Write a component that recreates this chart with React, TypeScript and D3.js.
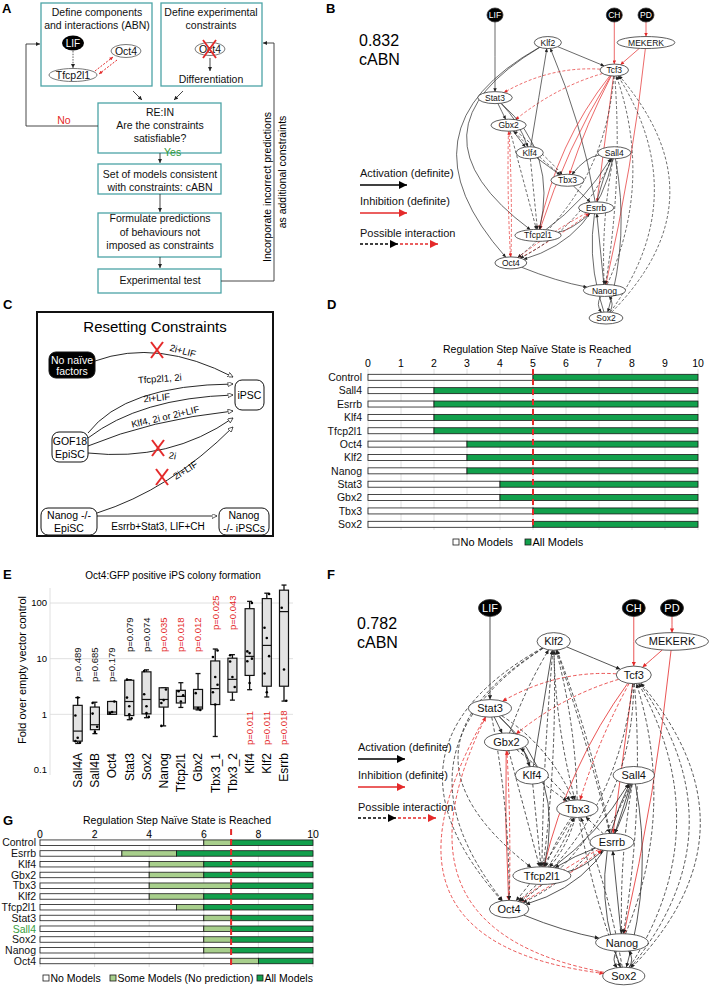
import React from 'react';
import * as d3 from 'd3';

const FONT = "'Liberation Sans', Arial, Helvetica, sans-serif";
const RED = '#e42a2a';
const TEAL = '#4ca4a6';
const DARK_GREEN = '#12a04c';
const LIGHT_GREEN = '#a8cf8c';
const INK = '#1a1a1a';
const GRID = '#d8d8d8';

// ---------- Panels B / F : network ----------
const netNodes = ['LIF', 'CH', 'PD', 'Klf2', 'MEKERK', 'Tcf3', 'Stat3', 'Gbx2', 'Klf4', 'Sall4', 'Tbx3', 'Esrrb', 'Tfcp2l1', 'Oct4', 'Nanog', 'Sox2'];
const netCol = [0, 7.9, 10, 3.5, 10, 7.9, 0, 0.9, 2.3, 7.9, 4.8, 6.7, 2.85, 1.05, 7.25, 7.35];
const netRank = [0, 0, 0, 1, 1, 2, 3, 4, 5, 5, 6, 7, 8, 9, 10, 11];
const netInputs = ['LIF', 'CH', 'PD'];

// [source, target, type (a=activation, i=inhibition, p=possible, q=possible red), bend]
const bEdges: [string, string, string, number][] = [
  ['LIF', 'Stat3', 'a', 0], ['CH', 'Tcf3', 'i', 0], ['PD', 'MEKERK', 'i', 0], ['MEKERK', 'Tcf3', 'i', 0],
  ['MEKERK', 'Nanog', 'i', -0.03], ['Klf2', 'Tcf3', 'a', 0], ['Esrrb', 'Klf2', 'a', 0.06],
  ['Tcf3', 'Stat3', 'q', 0.15], ['Tcf3', 'Gbx2', 'q', 0.1], ['Tcf3', 'Tfcp2l1', 'i', 0.12], ['Tcf3', 'Tfcp2l1', 'i', 0.06],
  ['Tcf3', 'Tbx3', 'i', 0.04], ['Tcf3', 'Esrrb', 'i', 0], ['Klf2', 'Oct4', 'a', 0.62], ['Klf2', 'Tfcp2l1', 'a', 0.75],
  ['Klf4', 'Klf2', 'a', 0], ['Stat3', 'Gbx2', 'a', 0], ['Stat3', 'Klf4', 'a', -0.12], ['Stat3', 'Tfcp2l1', 'a', -0.3],
  ['Gbx2', 'Klf4', 'a', 0], ['Gbx2', 'Tbx3', 'p', -0.04], ['Tbx3', 'Gbx2', 'p', -0.04], ['Gbx2', 'Tfcp2l1', 'p', 0],
  ['Gbx2', 'Oct4', 'q', 0.02], ['Oct4', 'Gbx2', 'q', 0.02], ['Klf4', 'Tbx3', 'a', 0], ['Klf4', 'Tfcp2l1', 'p', 0],
  ['Sall4', 'Tbx3', 'a', 0.2], ['Tfcp2l1', 'Sall4', 'a', 0.1], ['Sall4', 'Oct4', 'a', -0.3], ['Sall4', 'Sox2', 'a', -0.12],
  ['Sox2', 'Sall4', 'a', -0.2], ['Tbx3', 'Esrrb', 'a', 0], ['Tfcp2l1', 'Esrrb', 'a', 0.15], ['Esrrb', 'Oct4', 'q', 0.04],
  ['Oct4', 'Esrrb', 'q', 0.04], ['Oct4', 'Nanog', 'a', 0.05], ['Nanog', 'Esrrb', 'a', 0], ['Nanog', 'Sox2', 'a', 0.35],
  ['Sox2', 'Nanog', 'a', 0.35], ['Tcf3', 'Oct4', 'p', -0.22], ['Sall4', 'Oct4', 'p', -0.18], ['Sall4', 'Nanog', 'p', 0.06],
  ['Tcf3', 'Nanog', 'p', -0.06], ['Sox2', 'Tcf3', 'p', 0.34], ['Sox2', 'Tcf3', 'p', 0.46], ['Nanog', 'Tcf3', 'p', 0.2],
];

const fEdges: [string, string, string, number][] = [
  ['LIF', 'Stat3', 'a', 0], ['CH', 'Tcf3', 'i', 0], ['PD', 'MEKERK', 'i', 0], ['MEKERK', 'Tcf3', 'i', 0],
  ['MEKERK', 'Nanog', 'i', -0.03], ['Klf2', 'Tcf3', 'a', 0], ['Klf2', 'Oct4', 'p', 0.62], ['Klf2', 'Oct4', 'p', 0.55],
  ['Klf2', 'Tfcp2l1', 'p', 0.72], ['Tcf3', 'Stat3', 'q', 0.15], ['Tcf3', 'Gbx2', 'q', 0.1], ['Tcf3', 'Tfcp2l1', 'i', 0.1],
  ['Tcf3', 'Tbx3', 'q', 0.05], ['Tcf3', 'Esrrb', 'i', 0], ['Stat3', 'Gbx2', 'a', 0], ['Stat3', 'Klf4', 'a', -0.15],
  ['Stat3', 'Tfcp2l1', 'a', -0.3], ['Stat3', 'Tbx3', 'p', -0.15], ['Stat3', 'Sox2', 'q', 0.75], ['Sox2', 'Stat3', 'q', -0.66],
  ['Gbx2', 'Oct4', 'i', 0.02], ['Oct4', 'Gbx2', 'q', 0.02], ['Gbx2', 'Klf2', 'p', -0.05], ['Gbx2', 'Tfcp2l1', 'p', 0],
  ['Gbx2', 'Tbx3', 'p', -0.05], ['Klf4', 'Gbx2', 'a', 0.25], ['Klf4', 'Klf2', 'a', 0], ['Klf4', 'Tbx3', 'p', 0],
  ['Klf4', 'Tfcp2l1', 'p', 0], ['Tfcp2l1', 'Klf2', 'p', 0.04], ['Klf2', 'Tfcp2l1', 'p', 0.02], ['Tbx3', 'Klf2', 'p', 0.06],
  ['Klf2', 'Tbx3', 'p', 0.06], ['Esrrb', 'Klf2', 'p', 0.04], ['Klf2', 'Esrrb', 'p', -0.02], ['Tfcp2l1', 'Sall4', 'a', 0.1],
  ['Sall4', 'Esrrb', 'a', 0], ['Sall4', 'Oct4', 'a', -0.3], ['Sall4', 'Oct4', 'p', -0.2], ['Sall4', 'Nanog', 'p', 0.05],
  ['Sall4', 'Sox2', 'a', -0.12], ['Sox2', 'Sall4', 'a', -0.22], ['Tbx3', 'Tfcp2l1', 'p', 0.06], ['Tfcp2l1', 'Tbx3', 'p', 0.06],
  ['Tbx3', 'Tfcp2l1', 'p', -0.12], ['Tbx3', 'Sox2', 'p', 0.05], ['Sox2', 'Tbx3', 'p', 0.05], ['Tbx3', 'Oct4', 'p', -0.05],
  ['Esrrb', 'Tbx3', 'p', 0], ['Tfcp2l1', 'Esrrb', 'a', 0.15], ['Esrrb', 'Tfcp2l1', 'a', 0.05], ['Esrrb', 'Oct4', 'q', 0.04],
  ['Oct4', 'Esrrb', 'q', 0.04], ['Oct4', 'Nanog', 'a', 0.05], ['Nanog', 'Esrrb', 'a', 0], ['Nanog', 'Sox2', 'a', 0.35],
  ['Sox2', 'Nanog', 'a', 0.35], ['Tcf3', 'Oct4', 'p', -0.2], ['Tcf3', 'Oct4', 'p', -0.26], ['Tcf3', 'Nanog', 'p', -0.06],
  ['Sox2', 'Tcf3', 'p', 0.3], ['Sox2', 'Tcf3', 'p', 0.45], ['Tcf3', 'Sox2', 'p', -0.38], ['Nanog', 'Tcf3', 'p', 0.18],
  ['Stat3', 'Oct4', 'p', -0.05],
];
const bScore = ['0.832', 'cABN'];
const fScore = ['0.782', 'cABN'];
const legendLabels = ['Activation (definite)', 'Inhibition (definite)', 'Possible interaction'];

// ---------- Panel D ----------
const dCategories = ['Control', 'Sall4', 'Esrrb', 'Klf4', 'Tfcp2l1', 'Oct4', 'Klf2', 'Nanog', 'Stat3', 'Gbx2', 'Tbx3', 'Sox2'];
const dNoModels = [5, 2, 2, 2, 2, 3, 3, 3, 4, 4, 5, 5];
const dTicks = [0, 1, 2, 3, 4, 5, 6, 7, 8, 9, 10];
const dThreshold = 5;

// ---------- Panel G ----------
const gCategories = ['Control', 'Esrrb', 'Klf4', 'Gbx2', 'Tbx3', 'Klf2', 'Tfcp2l1', 'Stat3', 'Sall4', 'Sox2', 'Nanog', 'Oct4'];
const gNoModels = [6, 3, 4, 4, 4, 4, 5, 6, 6, 6, 6, 7];
const gSomeModels = [7, 5, 6, 6, 7, 6, 6, 7, 7, 7, 7, 8];
const gTicks = [0, 2, 4, 6, 8, 10];
const gThreshold = 7;
const gHighlight = 'Sall4';
const stepTitle = 'Regulation Step Naïve State is Reached';

// ---------- Panel E ----------
const eCategories = ['Sall4A', 'Sall4B', 'Oct4', 'Stat3', 'Sox2', 'Nanog', 'Tfcp2l1', 'Gbx2', 'Tbx3_1', 'Tbx3_2', 'Klf4', 'Klf2', 'Esrrb'];
const eWhiskerLow = [0.3, 0.45, 1.0, 0.8, 0.87, 0.62, 1.33, 1.2, 0.4, 1.8, 2.77, 2.05, 1.73];
const eQ1 = [0.33, 0.53, 1.0, 0.95, 1.02, 1.35, 1.6, 1.25, 1.5, 2.5, 5.0, 3.2, 3.2];
const eMedian = [0.5, 0.65, 1.1, 1.7, 1.85, 1.85, 2.1, 1.35, 2.9, 4.25, 11, 17.3, 70];
const eQ3 = [1.45, 1.35, 1.7, 4.1, 5.8, 3.0, 2.7, 2.8, 9.1, 10.2, 79, 120, 170];
const eWhiskerHigh = [2.0, 1.65, 1.7, 4.2, 6.3, 3.0, 3.7, 5.4, 14.9, 11.8, 107, 150, 210];
const ePoints = [
  [0.95, 0.38, 0.31, 0.33, 2.0], [1.03, 0.48, 0.6, 1.6], [1.05, 1.1, 1.7], [2.0, 1.4, 0.85, 4.2, 1.0],
  [2.3, 1.4, 0.9, 6.0, 1.05], [1.6, 1.8, 2.8, 0.62], [2.6, 1.7, 2.2], [2.4, 1.3, 1.2],
  [10.7, 4.67, 3.4, 2.5, 1.5, 14], [8.9, 4.67, 3.1, 11.5], [13.5, 12.6, 10, 9.0, 3.65, 100],
  [36, 23.5, 11.1, 5.4, 2.5, 145], [82, 6.4, 1.75],
];
const ePValues = ['0.489', '0.685', '0.179', '0.079', '0.074', '0.035', '0.018', '0.012', '0.025', '0.043', '0.011', '0.011', '0.018'];
const ePLevel = [0, 0, 0, 1, 1, 1, 1, 1, 2, 2, -1, -1, -1];
const eYTicks = [0.1, 1, 10, 100];
const eTitle = 'Oct4:GFP positive iPS colony formation';
const eYLabel = 'Fold over empty vector control';

let _ctx: any = null;
function textWidth(s: string, size: number) {
  if (!_ctx) {
    const c = document.createElement('canvas');
    _ctx = c.getContext('2d');
  }
  if (!_ctx) return s.length * size * 0.55;
  _ctx.font = `${size}px ${FONT}`;
  return _ctx.measureText(s).width;
}

function Marker({ id, color, w, h, open }: any) {
  return (
    <marker id={id} viewBox="0 0 10 10" refX={10} refY={5} markerWidth={w} markerHeight={h} markerUnits="userSpaceOnUse" orient="auto">
      <path d="M0,0L10,5L0,10Z" fill={open ? '#fff' : color} stroke={open ? color : 'none'} strokeWidth={open ? 1.3 : 0} />
    </marker>
  );
}

function onEllipse(n: any, tx: number, ty: number) {
  const dx = tx - n.x, dy = ty - n.y;
  const k = 1 / Math.sqrt((dx / n.rx) ** 2 + (dy / n.ry) ** 2 || 1);
  return [n.x + dx * k, n.y + dy * k];
}

function Network({ xr, yr, fontSize, nodeRy, inRx, inRy, edges, prefix, sw, dash }: any) {
  const xs = d3.scaleLinear().domain([0, 10]).range(xr);
  const ys = d3.scaleLinear().domain([0, 11]).range(yr);
  const nodes = netNodes.map((id, i) => {
    const input = netInputs.includes(id);
    const tw = textWidth(id, fontSize);
    return { id, x: xs(netCol[i]), y: ys(netRank[i]), rx: input ? inRx : tw * 0.72 + 3, ry: input ? inRy : nodeRy, input };
  });
  const map = new Map(nodes.map((n) => [n.id, n]));
  return (
    <g>
      {edges.map(([s, t, type, bend]: any, k: number) => {
        const a: any = map.get(s), b: any = map.get(t);
        const dx = b.x - a.x, dy = b.y - a.y;
        const cx = (a.x + b.x) / 2 - dy * bend, cy = (a.y + b.y) / 2 + dx * bend;
        const [x0, y0] = onEllipse(a, cx, cy);
        const [x1, y1] = onEllipse(b, cx, cy);
        const p = d3.path();
        p.moveTo(x0, y0);
        p.quadraticCurveTo(cx, cy, x1, y1);
        const red = type === 'i' || type === 'q';
        const dashed = type === 'p' || type === 'q';
        return (
          <path key={k} d={p.toString()} fill="none" stroke={red ? RED : '#2a2a2a'} strokeWidth={sw}
            strokeDasharray={dashed ? dash : undefined} markerEnd={`url(#${prefix}-${red ? 'r' : 'k'})`} />
        );
      })}
      {nodes.map((n) => (
        <g key={n.id}>
          <ellipse cx={n.x} cy={n.y} rx={n.rx} ry={n.ry} fill={n.input ? '#000' : '#fff'} stroke="#333" strokeWidth={0.8} />
          <text x={n.x} y={n.y + fontSize * 0.36} textAnchor="middle" fontSize={fontSize} fill={n.input ? '#fff' : '#111'}>{n.id}</text>
        </g>
      ))}
    </g>
  );
}

function NetLegend({ x, y }: any) {
  return (
    <g fontSize={11} fill="#111">
      <text x={x} y={y}>{legendLabels[0]}</text>
      <line x1={x} x2={x + 47} y1={y + 8} y2={y + 8} stroke="#000" strokeWidth={1.3} markerEnd="url(#leg-k)" />
      <text x={x} y={y + 28}>{legendLabels[1]}</text>
      <line x1={x} x2={x + 47} y1={y + 36} y2={y + 36} stroke={RED} strokeWidth={1.3} markerEnd="url(#leg-r)" />
      <text x={x} y={y + 60}>{legendLabels[2]}</text>
      <line x1={x} x2={x + 38} y1={y + 67} y2={y + 67} stroke="#000" strokeWidth={1.3} strokeDasharray="3,2" markerEnd="url(#leg-k)" />
      <line x1={x + 40} x2={x + 78} y1={y + 67} y2={y + 67} stroke={RED} strokeWidth={1.3} strokeDasharray="3,2" markerEnd="url(#leg-r)" />
    </g>
  );
}

function PanelA() {
  const box = (x: number, y: number, w: number, h: number) => (
    <rect x={x} y={y} width={w} height={h} fill="#fff" stroke={TEAL} strokeWidth={1.3} />
  );
  const t = (x: number, y: number, s: string, color = '#111') => (
    <text x={x} y={y} textAnchor="middle" fill={color}>{s}</text>
  );
  return (
    <g fontSize={10.5}>
      <text x={2} y={13} fontWeight="bold" fontSize={13}>A</text>
      {box(41, 3, 111, 83)}
      {t(97, 16, 'Define components')}
      {t(97, 29, 'and interactions (ABN)')}
      <ellipse cx={73} cy={43} rx={11} ry={7.5} fill="#000" />
      <text x={73} y={47} textAnchor="middle" fill="#fff" fontSize={10}>LIF</text>
      <ellipse cx={126} cy={51} rx={15} ry={6.5} fill="#fff" stroke="#555" strokeWidth={0.8} />
      {t(126, 55, 'Oct4')}
      <ellipse cx={73} cy={75} rx={24} ry={6.5} fill="#fff" stroke="#555" strokeWidth={0.8} />
      {t(73, 79, 'Tfcp2l1')}
      <line x1={73} y1={51} x2={73} y2={68} stroke="#333" strokeWidth={0.8} strokeDasharray="1.5,1.2" markerEnd="url(#mA)" />
      <line x1={95} y1={71} x2={113} y2={57} stroke={RED} strokeWidth={1} strokeDasharray="2,1.5" markerEnd="url(#mAr)" />
      <line x1={117} y1={60} x2={99} y2={74} stroke={RED} strokeWidth={1} strokeDasharray="2,1.5" markerEnd="url(#mAr)" />

      {box(161, 3, 101, 83)}
      {t(211, 16, 'Define experimental')}
      {t(211, 29, 'constraints')}
      <ellipse cx={210} cy={49} rx={15} ry={6.5} fill="#fff" stroke="#555" strokeWidth={0.8} />
      {t(210, 53, 'Oct4')}
      <line x1={203} y1={40} x2={216} y2={58} stroke={RED} strokeWidth={1.8} />
      <line x1={216} y1={40} x2={203} y2={58} stroke={RED} strokeWidth={1.8} />
      <line x1={210} y1={58} x2={210} y2={71} stroke="#333" strokeWidth={0.9} markerEnd="url(#mA)" />
      {t(211, 83, 'Differentiation')}

      <line x1={133} y1={91} x2={142} y2={100} stroke="#333" strokeWidth={0.9} markerEnd="url(#mA)" />
      <line x1={183} y1={91} x2={174} y2={100} stroke="#333" strokeWidth={0.9} markerEnd="url(#mA)" />

      {box(98, 103, 123, 50)}
      {t(160, 116, 'RE:IN')}
      {t(160, 129, 'Are the constraints')}
      {t(160, 142, 'satisfiable?')}
      <path d="M98,126H26V44H40" fill="none" stroke="#333" strokeWidth={0.9} markerEnd="url(#mA)" />
      <text x={64} y={124} textAnchor="middle" fill={RED}>No</text>
      <line x1={160} y1={153} x2={160} y2={163} stroke="#333" strokeWidth={0.9} markerEnd="url(#mA)" />
      <text x={164} y={156} fill="#2f9a3a">Yes</text>

      {box(98, 164, 123, 30)}
      {t(160, 178, 'Set of models consistent')}
      {t(160, 191, 'with constraints: cABN')}
      <line x1={160} y1={194} x2={160} y2={212} stroke="#333" strokeWidth={0.9} markerEnd="url(#mA)" />

      {box(98, 213, 123, 44)}
      {t(160, 222, 'Formulate predictions')}
      {t(160, 236, 'of behaviours not')}
      {t(160, 249, 'imposed as constraints')}
      <line x1={160} y1={257} x2={160} y2={268} stroke="#333" strokeWidth={0.9} markerEnd="url(#mA)" />

      {box(98, 269, 123, 24)}
      {t(160, 284, 'Experimental test')}
      <path d="M221,281H274V43H263" fill="none" stroke="#333" strokeWidth={0.9} markerEnd="url(#mA)" />
      <text transform="translate(271,187) rotate(-90)" textAnchor="middle">Incorporate incorrect predictions</text>
      <text transform="translate(286,172) rotate(-90)" textAnchor="middle">as additional constraints</text>
    </g>
  );
}

function RedX({ x, y }: any) {
  return (
    <g stroke={RED} strokeWidth={2}>
      <line x1={x - 6} y1={y - 8} x2={x + 6} y2={y + 8} />
      <line x1={x + 6} y1={y - 8} x2={x - 6} y2={y + 8} />
    </g>
  );
}

function PanelC() {
  const curves = [
    'M95,361 Q158,338 233,377',
    'M88,433 Q125,385 233,384',
    'M88,438 Q140,398 233,395',
    'M88,446 Q150,420 233,411',
    'M88,453 Q170,462 233,418',
    'M97,513 Q170,490 233,427',
    'M97,516 L217,516',
  ];
  const lab = (x: number, y: number, r: number, s: string) => (
    <text transform={`translate(${x},${y}) rotate(${r})`} textAnchor="middle" fontSize={9.5}>{s}</text>
  );
  const nodeRect = (x: number, y: number, w: number, h: number, fill: string) => (
    <rect x={x} y={y} width={w} height={h} rx={7} fill={fill} stroke="#111" strokeWidth={1} />
  );
  return (
    <g fontSize={10.5}>
      <text x={3} y={309} fontWeight="bold" fontSize={13}>C</text>
      <rect x={37} y={312} width={236} height={224} fill="#fff" stroke="#111" strokeWidth={2} />
      <text x={155} y={332} textAnchor="middle" fontSize={15}>Resetting Constraints</text>
      {curves.map((d, i) => (
        <path key={i} d={d} fill="none" stroke="#111" strokeWidth={0.9} markerEnd="url(#mOpen)" />
      ))}
      {nodeRect(49, 352, 46, 26, '#000')}
      <text x={72} y={363.5} textAnchor="middle" fill="#fff">No naïve</text>
      <text x={72} y={375} textAnchor="middle" fill="#fff">factors</text>
      {nodeRect(235, 380, 29, 30, '#fff')}
      <text x={249.5} y={399} textAnchor="middle">iPSC</text>
      {nodeRect(52, 432, 36, 30, '#fff')}
      <text x={70} y={445} textAnchor="middle">GOF18</text>
      <text x={70} y={458} textAnchor="middle">EpiSC</text>
      {nodeRect(41, 508, 56, 27, '#fff')}
      <text x={69} y={519} textAnchor="middle">Nanog -/-</text>
      <text x={69} y={532} textAnchor="middle">EpiSC</text>
      {nodeRect(219, 508, 50, 27, '#fff')}
      <text x={244} y={519} textAnchor="middle">Nanog</text>
      <text x={244} y={532} textAnchor="middle">-/- iPSCs</text>
      {lab(182, 354, 15, '2i+LIF')}
      {lab(160, 382, -4, 'Tfcp2l1, 2i')}
      {lab(157, 401, -5, '2i+LIF')}
      {lab(166, 420, -13, 'Klf4, 2i or 2i+LIF')}
      {lab(172, 459, 10, '2i')}
      {lab(187, 473, -32, '2i+LIF')}
      <text x={158} y={530} textAnchor="middle" fontSize={10}>Esrrb+Stat3, LIF+CH</text>
      <RedX x={157} y={350} />
      <RedX x={158} y={448} />
      <RedX x={162} y={477} />
    </g>
  );
}

function StepChart({ categories, noModels, someModels, ticks, threshold, xr, yr, labelX, tickY, titleX, titleY, gridTop, gridBottom, barH, highlight, fontSize }: any) {
  const x = d3.scaleLinear().domain([0, 10]).range(xr);
  const y = d3.scalePoint().domain(categories).range(yr);
  const gridTicks = x.ticks(10).filter((v) => ticks.length > 6 || v % 2 === 0);
  return (
    <g fontSize={fontSize}>
      <text x={titleX} y={titleY} textAnchor="middle">{stepTitle}</text>
      {gridTicks.map((v) => (
        <line key={v} x1={x(v)} x2={x(v)} y1={gridTop} y2={gridBottom} stroke={GRID} strokeWidth={0.8} />
      ))}
      {ticks.map((v: number) => (
        <text key={v} x={x(v)} y={tickY} textAnchor="middle">{v}</text>
      ))}
      {categories.map((c: string, i: number) => {
        const yc = y(c) as number;
        const n = noModels[i];
        const s = someModels ? someModels[i] : n;
        return (
          <g key={c}>
            <text x={labelX} y={yc + fontSize * 0.36} textAnchor="end" fill={c === highlight ? '#3aa040' : '#111'}>{c}</text>
            <rect x={x(0)} y={yc - barH / 2} width={x(n) - x(0)} height={barH} fill="#fff" stroke={INK} strokeWidth={0.8} />
            {s > n && <rect x={x(n)} y={yc - barH / 2} width={x(s) - x(n)} height={barH} fill={LIGHT_GREEN} stroke={INK} strokeWidth={0.8} />}
            <rect x={x(s)} y={yc - barH / 2} width={x(10) - x(s)} height={barH} fill={DARK_GREEN} stroke={INK} strokeWidth={0.8} />
          </g>
        );
      })}
      <line x1={x(threshold)} x2={x(threshold)} y1={gridTop} y2={gridBottom - 1} stroke={RED} strokeWidth={2} strokeDasharray="6,4" />
    </g>
  );
}

function PanelE() {
  const y = d3.scaleLog().domain([0.1, 100]).range([770, 603]);
  const x = d3.scalePoint().domain(eCategories).range([77.7, 284]);
  const pStart = [682, 652, 630];
  const bw = 9;
  return (
    <g>
      <text x={3} y={579} fontWeight="bold" fontSize={13}>E</text>
      <text x={173} y={579} textAnchor="middle" fontSize={10}>{eTitle}</text>
      <line x1={50} x2={50} y1={588} y2={775} stroke={GRID} strokeWidth={0.8} />
      {eYTicks.map((v) => (
        <g key={v}>
          {v >= 1 && <line x1={50} x2={293} y1={y(v)} y2={y(v)} stroke={GRID} strokeWidth={0.8} />}
          <text x={47} y={y(v)} dy="0.35em" textAnchor="end" fontSize={9.5}>{v}</text>
        </g>
      ))}
      <text transform="translate(26,670) rotate(-90)" textAnchor="middle" fontSize={11}>{eYLabel}</text>
      {eCategories.map((c, i) => {
        const cx = x(c) as number;
        const sig = parseFloat(ePValues[i]) < 0.05;
        const lvl = ePLevel[i];
        const py = lvl >= 0 ? pStart[lvl] : 745;
        return (
          <g key={c}>
            <line x1={cx} x2={cx} y1={y(eWhiskerLow[i])} y2={y(eQ1[i])} stroke="#111" strokeWidth={1.3} />
            <line x1={cx} x2={cx} y1={y(eQ3[i])} y2={y(eWhiskerHigh[i])} stroke="#111" strokeWidth={1.3} />
            <line x1={cx - 2.5} x2={cx + 2.5} y1={y(eWhiskerLow[i])} y2={y(eWhiskerLow[i])} stroke="#111" strokeWidth={1.3} />
            <line x1={cx - 2.5} x2={cx + 2.5} y1={y(eWhiskerHigh[i])} y2={y(eWhiskerHigh[i])} stroke="#111" strokeWidth={1.3} />
            <rect x={cx - bw / 2} y={y(eQ3[i])} width={bw} height={Math.max(1, y(eQ1[i]) - y(eQ3[i]))} fill="#e3e3e3" stroke="#111" strokeWidth={1.2} />
            <line x1={cx - bw / 2} x2={cx + bw / 2} y1={y(eMedian[i])} y2={y(eMedian[i])} stroke="#111" strokeWidth={1.2} />
            {ePoints[i].map((v, j) => (
              <circle key={j} cx={cx + ((j % 3) - 1) * 2.3} cy={y(v)} r={1.3} fill="#000" />
            ))}
            <text transform={`translate(${cx},${py}) rotate(-90)`} dy="0.35em" fontSize={9.5} fill={sig ? RED : '#111'}>p={ePValues[i]}</text>
            <text transform={`translate(${cx},753) rotate(-90)`} dy="0.36em" textAnchor="end" fontSize={12}>{c}</text>
          </g>
        );
      })}
    </g>
  );
}

function LegendSquare({ x, y, fill, label }: any) {
  return (
    <g>
      <rect x={x} y={y - 7} width={6} height={6} fill={fill} stroke={INK} strokeWidth={0.8} />
      <text x={x + 7.5} y={y}>{label}</text>
    </g>
  );
}

export default function App() {
  return (
    <svg width={709} height={988} style={{ position: 'absolute', left: 0, top: 0, background: '#fff' }} fontFamily={FONT}>
      <defs>
        <Marker id="mA" color="#222" w={5} h={4} />
        <Marker id="mAr" color={RED} w={4} h={3.5} />
        <Marker id="mOpen" color="#111" w={6} h={5} open />
        <Marker id="B-k" color="#222" w={4.5} h={3.5} />
        <Marker id="B-r" color={RED} w={4.5} h={3.5} />
        <Marker id="F-k" color="#222" w={5.5} h={4.2} />
        <Marker id="F-r" color={RED} w={5.5} h={4.2} />
        <Marker id="leg-k" color="#000" w={12} h={8} />
        <Marker id="leg-r" color={RED} w={12} h={8} />
      </defs>
      <rect width={709} height={988} fill="#fff" />
      <PanelA />

      {/* Panel B */}
      <text x={326} y={13} fontWeight="bold" fontSize={13}>B</text>
      <text x={359} y={46} fontSize={16}>{bScore[0]}</text>
      <text x={359} y={65} fontSize={16}>{bScore[1]}</text>
      <NetLegend x={360} y={177} />
      <Network xr={[495, 646]} yr={[15, 318]} fontSize={8.5} nodeRy={6} inRx={8} inRy={7} edges={bEdges} prefix="B" sw={0.7} dash="3,2" />

      <PanelC />

      {/* Panel D */}
      <text x={327} y={309} fontWeight="bold" fontSize={13}>D</text>
      <StepChart categories={dCategories} noModels={dNoModels} someModels={null} ticks={dTicks} threshold={dThreshold}
        xr={[368, 698]} yr={[377.3, 524.3]} labelX={362} tickY={367} titleX={537} titleY={353} gridTop={369} gridBottom={530}
        barH={6} highlight={null} fontSize={10.5} />
      <g fontSize={11}>
        <LegendSquare x={453} y={546} fill="#fff" label="No Models" />
        <LegendSquare x={525} y={546} fill={DARK_GREEN} label="All Models" />
      </g>

      <PanelE />

      {/* Panel F */}
      <text x={327} y={579} fontWeight="bold" fontSize={13}>F</text>
      <text x={357} y={629} fontSize={16}>{fScore[0]}</text>
      <text x={357} y={648} fontSize={16}>{fScore[1]}</text>
      <NetLegend x={358} y={751} />
      <Network xr={[490, 672]} yr={[608, 976]} fontSize={11} nodeRy={8.8} inRx={11.5} inRy={8.5} edges={fEdges} prefix="F" sw={0.8} dash="3.5,2.2" />

      {/* Panel G */}
      <text x={3} y={825} fontWeight="bold" fontSize={13}>G</text>
      <StepChart categories={gCategories} noModels={gNoModels} someModels={gSomeModels} ticks={gTicks} threshold={gThreshold}
        xr={[40, 313]} yr={[842.7, 961]} labelX={36} tickY={838} titleX={177} titleY={824} gridTop={829} gridBottom={967}
        barH={5.5} highlight={gHighlight} fontSize={10.5} />
      <g fontSize={10.5}>
        <LegendSquare x={43} y={982} fill="#fff" label="No Models" />
        <LegendSquare x={110} y={982} fill={LIGHT_GREEN} label="Some Models (No prediction)" />
        <LegendSquare x={257} y={982} fill={DARK_GREEN} label="All Models" />
      </g>
    </svg>
  );
}
